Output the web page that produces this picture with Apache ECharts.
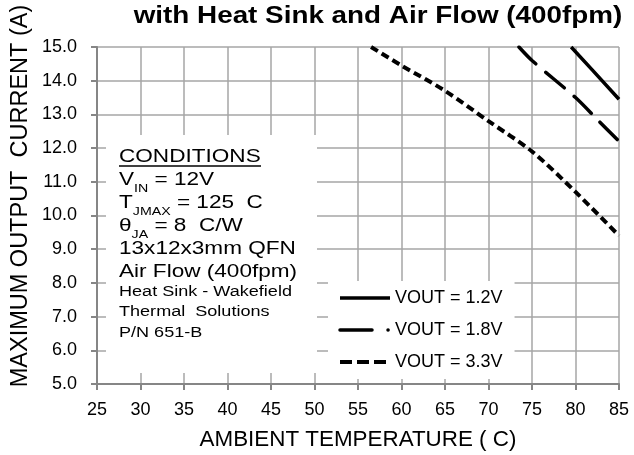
<!DOCTYPE html>
<html>
<head>
<meta charset="utf-8">
<script src="https://cdn.jsdelivr.net/npm/echarts@6/dist/echarts.min.js"></script>
<style>
  html, body { margin: 0; padding: 0; background: #fff; }
  #chart { width: 634px; height: 455px; }
</style>
</head>
<body>
<div id="chart"></div>
<script>
// 数据
var temps12 = [79.5, 82, 85];
var amps12 = [15.0, 14.3, 13.45];
var temps18 = [73.5, 75, 80, 82.5, 85];
var amps18 = [15.0, 14.6, 13.5, 12.85, 12.2];
var temps33 = [56.5, 60, 65, 70, 75, 80, 85];
var amps33 = [15.0, 14.45, 13.7, 12.8, 11.9, 10.7, 9.4];
var seriesNames = ['VOUT = 1.2V', 'VOUT = 1.8V', 'VOUT = 3.3V'];

var FONT = '"Liberation Sans", Arial, sans-serif';
var STRETCH = 1.29;

function pairs(xs, ys) {
    var out = [];
    for (var i = 0; i < xs.length; i++) {
        out.push([xs[i], ys[i]]);
    }
    return out;
}

// 条件说明文字
function condLine(y, txt, size) {
    return {
        type: 'text', x: 119, y: y, scaleX: STRETCH, z: 11,
        style: {
            text: txt, fill: '#000', fontSize: size, fontFamily: FONT,
            lineHeight: size + 2, verticalAlign: 'middle',
            rich: {
                s: { fontSize: Math.round(size * 0.62), fontFamily: FONT, lineHeight: size + 2, verticalAlign: 'bottom', padding: [0, 0, -5, 0] }
            }
        }
    };
}

var myChart = echarts.init(document.getElementById('chart'));
var option = {
    animation: false,
    backgroundColor: '#fff',
    textStyle: { fontFamily: FONT },
    grid: { left: 97, right: 15, top: 47, bottom: 71, outerBoundsMode: 'none' },
    xAxis: {
        type: 'value', min: 25, max: 85, interval: 5,
        name: 'AMBIENT TEMPERATURE ( C)',
        nameLocation: 'middle', nameGap: 45,
        nameTextStyle: { fontSize: 22.4, color: '#000', fontFamily: FONT },
        axisLine: { lineStyle: { color: '#868686', width: 2 } },
        axisTick: { show: true, length: 6, lineStyle: { color: '#868686', width: 2 } },
        axisLabel: { fontSize: 18, color: '#000', margin: 17, fontFamily: FONT },
        splitLine: { show: true, lineStyle: { color: '#a6a6a6', width: 1.5 } }
    },
    yAxis: {
        type: 'value', min: 5, max: 15, interval: 1,
        axisLine: { show: true, lineStyle: { color: '#868686', width: 2 } },
        axisTick: { show: true, length: 6, lineStyle: { color: '#868686', width: 2 } },
        axisLabel: {
            fontSize: 18, color: '#000', margin: 20, fontFamily: FONT,
            formatter: function(v) { return v.toFixed(1); }
        },
        splitLine: { show: true, lineStyle: { color: '#a6a6a6', width: 1.5 } }
    },
    legend: {
        data: [
            { name: seriesNames[0], lineStyle: { width: 3.5 } },
            { name: seriesNames[1], lineStyle: { width: 3.5, type: [32, 16, 0.1, 20], cap: 'round' } },
            { name: seriesNames[2], lineStyle: { width: 4, type: [12, 5], cap: 'butt' } }
        ],
        orient: 'vertical',
        left: 328, top: 281,
        padding: [8, 12, 8, 10],
        backgroundColor: '#fff',
        itemWidth: 50, itemHeight: 14, itemGap: 14,
        itemStyle: { opacity: 0 },
        textStyle: { fontSize: 18, color: '#000', lineHeight: 18, fontFamily: FONT }
    },
    series: [{
        name: seriesNames[0], type: 'line', symbol: 'none',
        data: pairs(temps12, amps12),
        lineStyle: { color: '#000', width: 3.5 }
    }, {
        name: seriesNames[1], type: 'line', symbol: 'none', smooth: 0.3,
        data: pairs(temps18, amps18),
        lineStyle: { color: '#000', width: 3.5, type: [24, 13], cap: 'round' }
    }, {
        name: seriesNames[2], type: 'line', symbol: 'none', smooth: 0.3,
        data: pairs(temps33, amps33),
        lineStyle: { color: '#000', width: 4, type: [8, 4.5], cap: 'butt' }
    }],
    graphic: [
        // 标题
        {
            type: 'text', x: 378, y: 17, scaleX: 1.21, z: 11,
            style: {
                text: 'with Heat Sink and Air Flow (400fpm)', fill: '#000',
                font: 'bold 23px ' + FONT, align: 'center', verticalAlign: 'middle'
            }
        },
        // 纵轴名
        {
            type: 'text', x: 21, y: 196, rotation: Math.PI / 2, z: 11,
            style: {
                text: 'MAXIMUM OUTPUT  CURRENT (A)', fill: '#000',
                font: '23.5px ' + FONT, align: 'center', verticalAlign: 'middle'
            }
        },
        // 白底
        {
            type: 'rect', z: 10,
            shape: { x: 106, y: 135, width: 211, height: 238 },
            style: { fill: '#fff' }
        },
        condLine(157, 'CONDITIONS', 17.5),
        {
            type: 'line', z: 11,
            shape: { x1: 119, y1: 166, x2: 261, y2: 166 },
            style: { stroke: '#000', lineWidth: 1.5 }
        },
        condLine(180, 'V{s|IN} = 12V', 17.5),
        condLine(203, 'T{s|JMAX} = 125  C', 17.5),
        condLine(226, 'θ{s|JA} = 8  C/W', 17.5),
        condLine(249, '13x12x3mm QFN', 17.5),
        condLine(272, 'Air Flow (400fpm)', 17.5),
        condLine(292, 'Heat Sink - Wakefield', 14),
        condLine(312, 'Thermal  Solutions', 14),
        condLine(333, 'P/N 651-B', 14)
    ]
};
myChart.setOption(option);
</script>
</body>
</html>
